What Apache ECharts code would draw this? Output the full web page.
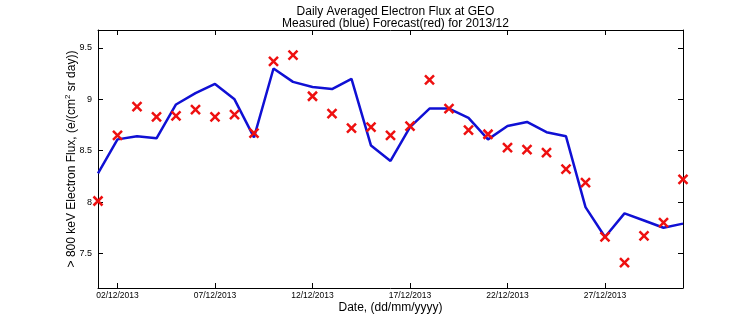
<!DOCTYPE html>
<html>
<head>
<meta charset="utf-8">
<script src="https://cdn.jsdelivr.net/npm/echarts@6/dist/echarts.min.js"></script>
<style>
html,body{margin:0;padding:0;background:#fff;}
#chart{width:756px;height:324px;}
</style>
</head>
<body>
<div id="chart"></div>
<script>
var days = [1,2,3,4,5,6,7,8,9,10,11,12,13,14,15,16,17,18,19,20,21,22,23,24,25,26,27,28,29,30,31];
var measured = [8.28,8.61,8.64,8.62,8.95,9.06,9.15,9.00,8.63,9.30,9.17,9.12,9.10,9.20,8.55,8.40,8.73,8.91,8.91,8.82,8.61,8.74,8.78,8.68,8.64,7.95,7.66,7.89,7.82,7.75,7.79];
var forecast = [8.01,8.65,8.93,8.83,8.84,8.90,8.83,8.85,8.67,9.37,9.43,9.03,8.86,8.72,8.73,8.65,8.74,9.19,8.91,8.70,8.66,8.53,8.51,8.48,8.32,8.19,7.66,7.41,7.67,7.80,8.22];
var xTickDays = [2,7,12,17,22,27];
var xTickLabels = ['02/12/2013','07/12/2013','12/12/2013','17/12/2013','22/12/2013','27/12/2013'];
var yTicks = [7.5,8,8.5,9,9.5];
var yTickLabels = ['7.5','8','8.5','9','9.5'];

var FONT = '"Liberation Sans",Arial,sans-serif';
var chart = echarts.init(document.getElementById('chart'));

function pairs(xs, ys){ return xs.map(function(x,i){ return [x, ys[i]]; }); }

var axisLine = {show:true, lineStyle:{color:'#000', width:1}};
var tickIn = {show:true, inside:true, length:5, lineStyle:{color:'#000', width:1}};

chart.setOption({
  animation:false,
  backgroundColor:'#fff',
  title:{
    text:'Daily Averaged Electron Flux at GEO\nMeasured (blue) Forecast(red) for 2013/12',
    left:390.5, textAlign:'center', top:0,
    textStyle:{fontFamily:FONT, fontSize:12, fontWeight:'normal', color:'#000', lineHeight:12.5}
  },
  grid:{left:98, right:73, top:30, bottom:36},
  xAxis:[{
    type:'value', min:1, max:31, position:'bottom',
    axisLine:axisLine,
    axisTick:Object.assign({customValues:xTickDays}, tickIn),
    axisLabel:{customValues:xTickDays, margin:3, fontFamily:FONT, fontSize:8.5, color:'#000',
      formatter:function(v){ var i = xTickDays.indexOf(Math.round(v)); return i>=0 ? xTickLabels[i] : ''; }},
    splitLine:{show:false},
    name:'Date, (dd/mm/yyyy)', nameLocation:'middle', nameGap:14, nameMoveOverlap:false,
    nameTextStyle:{fontFamily:FONT, fontSize:12, color:'#000', verticalAlign:'top'}
  },{
    type:'value', min:1, max:31, position:'top',
    axisLine:axisLine,
    axisTick:Object.assign({customValues:xTickDays}, tickIn),
    axisLabel:{show:false}, splitLine:{show:false}
  }],
  yAxis:[{
    type:'value', min:7.163, max:9.675, position:'left',
    axisLine:axisLine,
    axisTick:Object.assign({customValues:yTicks}, tickIn),
    axisLabel:{customValues:yTicks, margin:6, fontFamily:FONT, fontSize:9, color:'#000',
      formatter:function(v){ var i = yTicks.indexOf(Math.round(v*10)/10); return i>=0 ? yTickLabels[i] : ''; }},
    splitLine:{show:false},
    name:'{a|> 800 keV Electron Flux, (e/(cm}{s|2}{a| sr day))}', nameLocation:'middle', nameGap:18, nameMoveOverlap:false,
    nameTextStyle:{fontFamily:FONT, fontSize:12, color:'#000', verticalAlign:'bottom',
      rich:{a:{fontFamily:FONT, fontSize:12, color:'#000'}, s:{fontFamily:FONT, fontSize:8, color:'#000', verticalAlign:'top', padding:[0,0,8,0]}}}
  },{
    type:'value', min:7.163, max:9.675, position:'right',
    axisLine:axisLine,
    axisTick:Object.assign({customValues:yTicks}, tickIn),
    axisLabel:{show:false}, splitLine:{show:false}
  }],
  series:[{
    type:'line', xAxisIndex:0, yAxisIndex:0,
    data:pairs(days, measured),
    showSymbol:false, symbol:'none',
    lineStyle:{color:'#1010d4', width:2.5},
    z:2
  },{
    type:'scatter', xAxisIndex:0, yAxisIndex:0,
    data:pairs(days, forecast),
    symbol:'path://M0,0L10,10M10,0L0,10', symbolSize:9,
    itemStyle:{color:'none', borderColor:'#ee1010', borderWidth:2.5, opacity:1},
    z:3
  }]
});
</script>
</body>
</html>
